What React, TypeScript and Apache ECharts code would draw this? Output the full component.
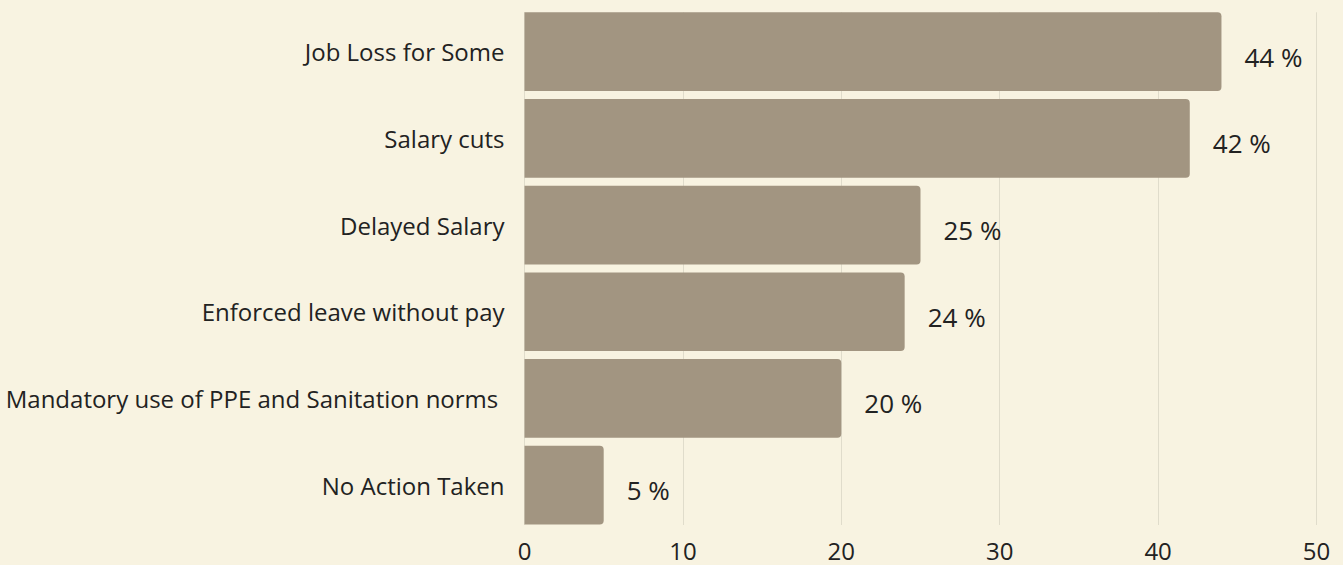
import React, { useEffect, useRef } from "react";
import * as echarts from "echarts";

const categories = [
  "Job Loss for Some",
  "Salary cuts",
  "Delayed Salary",
  "Enforced leave without pay",
  "Mandatory use of PPE and Sanitation norms ",
  "No Action Taken",
];
const values = [44, 42, 25, 24, 20, 5];
const axisMin = 0;
const axisMax = 50;
const axisInterval = 10;

const FONT = "'Open Sans', 'Noto Sans', sans-serif";

export default function App() {
  const ref = useRef<HTMLDivElement>(null);
  useEffect(() => {
    if (!ref.current) return;
    const chart = echarts.init(ref.current, undefined, { renderer: "svg" });
    const left = 524.5;
    const right = 26.5;
    chart.setOption({
      animation: false,
      backgroundColor: "#f8f3e1",
      textStyle: { fontFamily: FONT },
      grid: [
        { left, right, top: 12.3, bottom: 40 },
        { left, right, top: 8.3, bottom: 36.5 },
      ],
      xAxis: [
        {
          type: "value",
          gridIndex: 0,
          min: axisMin,
          max: axisMax,
          interval: axisInterval,
          axisLine: { show: false },
          axisTick: { show: false },
          splitLine: { show: true, lineStyle: { color: "#e0dccb", width: 1 } },
          axisLabel: { fontSize: 24, lineHeight: 24, color: "#222", margin: 13, fontFamily: FONT },
        },
        {
          type: "value",
          gridIndex: 1,
          min: axisMin,
          max: axisMax,
          show: false,
        },
      ],
      yAxis: [
        {
          type: "category",
          gridIndex: 0,
          data: categories,
          inverse: true,
          show: false,
        },
        {
          type: "category",
          gridIndex: 1,
          data: categories,
          inverse: true,
          axisLine: { show: false },
          axisTick: { show: false },
          splitLine: { show: false },
          axisLabel: { fontSize: 24, color: "#222", margin: 20, fontFamily: FONT },
        },
      ],
      series: [
        {
          type: "bar",
          xAxisIndex: 1,
          yAxisIndex: 1,
          data: values,
          barCategoryGap: "9.2%",
          itemStyle: { color: "#a29581", borderRadius: [0, 4, 4, 0] },
          label: {
            show: true,
            position: "right",
            distance: 23,
            offset: [0, 5],
            formatter: "{c} %",
            fontSize: 26,
            color: "#222",
            fontFamily: FONT,
          },
        },
      ],
    });
    return () => chart.dispose();
  }, []);
  return (
    <div
      ref={ref}
      style={{ position: "fixed", left: 0, top: 0, width: 1343, height: 565, background: "#f8f3e1" }}
    />
  );
}
